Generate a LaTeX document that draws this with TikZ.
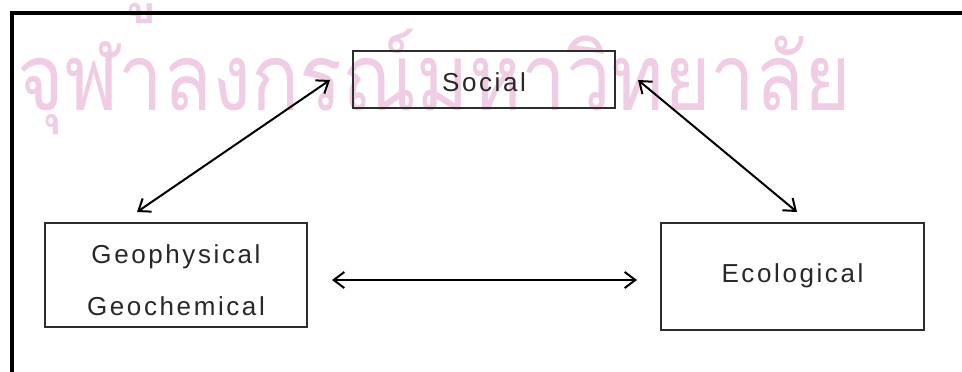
\documentclass[tikz,border=0pt]{standalone}
\usepackage{fontspec}
\setmainfont{Liberation Sans}[LetterSpace=10]
\newfontfamily\thaifont[Script=Thai]{Loma}
\usetikzlibrary{arrows.meta}
\definecolor{wm}{RGB}{240,205,228}
\definecolor{boxline}{RGB}{45,45,45}
\definecolor{lbl}{RGB}{40,40,40}
\tikzset{
  wmtext/.style={text=wm, inner sep=0pt, font=\thaifont\fontsize{82}{90}\selectfont},
  outerframe/.style={draw=black, line width=2.4pt},
  boxnode/.style={draw=boxline, line width=1.4pt, fill=none, inner sep=0pt},
  lblnode/.style={text=lbl, inner sep=0pt, font=\fontsize{19.5}{23}\selectfont},
  link/.style={draw=black, line width=1.5pt, {Straight Barb[length=8pt,width=12pt]}-{Straight Barb[length=8pt,width=12pt]}}
}
\begin{document}
\begin{tikzpicture}[x=0.75pt,y=-0.75pt]
\useasboundingbox (0,0) rectangle (962,371);
\fill[white] (0,0) rectangle (962,371);
\begin{scope}
  \clip (0,0) rectangle (962,371);
  \node[wmtext, anchor=base west] (wm1) at (17,110) {\scalebox{0.73}[0.85]{จุฬาลงกรณ์มหาวิทยาลัย}};
  \node[wmtext, anchor=base west] (wm2) at (108,-1) {\scalebox{0.73}[0.85]{ศูนย์วิทยทรัพยากร}};
\end{scope}
% outer frame (only top and left edges visible)
\draw[outerframe] (970,13) -- (12,13) -- (12,380);
% boxes
\node[boxnode, minimum width=196.5pt, minimum height=42.75pt] (soc) at (484,79.5) {};
\node[boxnode, minimum width=196.5pt, minimum height=78pt] (geo) at (176,275) {};
\node[boxnode, minimum width=197.25pt, minimum height=80.25pt] (eco) at (792.5,276.5) {};
% labels
\node[lblnode, anchor=base] (socl) at (484,91) {Social};
\node[lblnode, anchor=base] (geol1) at (176,263) {Geophysical};
\node[lblnode, anchor=base] (geol2) at (176,315) {Geochemical};
\node[lblnode, anchor=base] (ecol) at (792.5,282) {Ecological};
% arrow end points
\coordinate (gs1) at (137,212);
\coordinate (gs2) at (330,80);
\coordinate (se1) at (638,80);
\coordinate (se2) at (797,212);
\coordinate (ge1) at (332,280);
\coordinate (ge2) at (637,280);
\draw[link] (gs1) -- (gs2);
\draw[link] (se1) -- (se2);
\draw[link] (ge1) -- (ge2);
\end{tikzpicture}
\end{document}
